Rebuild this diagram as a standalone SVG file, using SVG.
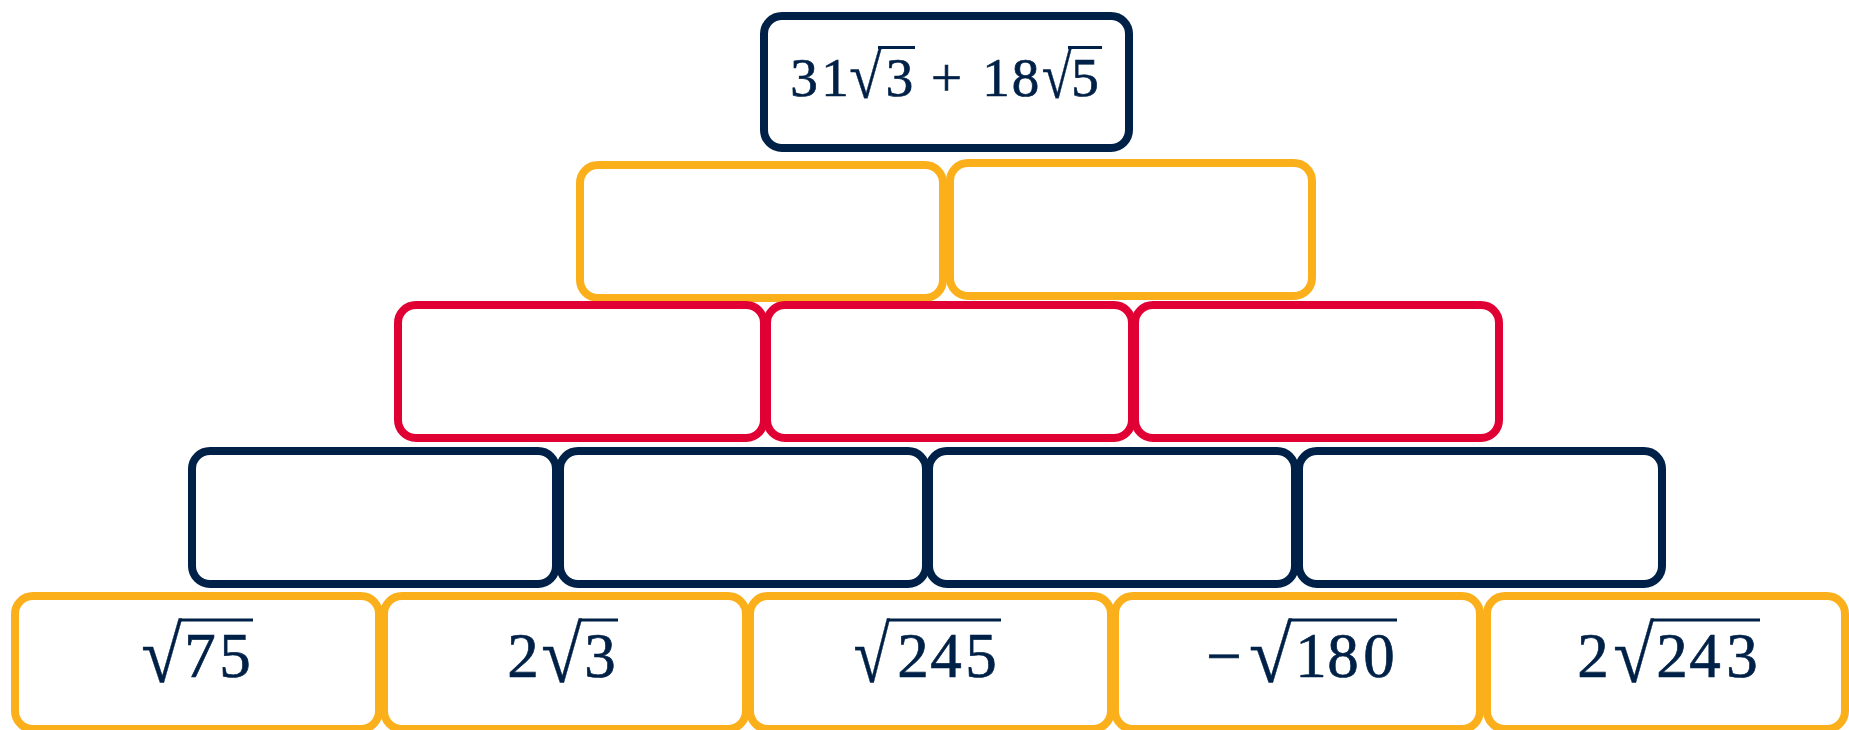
<svg xmlns="http://www.w3.org/2000/svg" width="1849" height="730" viewBox="0 0 1849 730">
<style>
.box{fill:none;stroke-width:8}
.y{stroke:#fbb01b}
.r{stroke:#e00034}
.d{stroke:#002147}
.t{font-family:"Liberation Serif","Times New Roman",serif;fill:#002147;stroke:#002147;stroke-width:0.7px;text-anchor:middle}
.b{font-size:63px}
.s{font-size:55px}
.rb{font-size:80px;text-anchor:end;stroke-width:0.4px}
.rs{font-size:65px;text-anchor:end;stroke-width:0.4px}
.v{stroke:#002147;stroke-width:3}
</style>
<rect x="0" y="0" width="1849" height="730" fill="#fff"/>
<g id="top">
  <rect class="box d" x="764" y="16" width="365" height="132" rx="18"/>
  <text class="t s" x="804 835" y="96">31</text>
  <text class="t rs" transform="translate(882,98) scale(0.92,1)" x="0" y="0">√</text>
  <line class="v" x1="878" y1="47.5" x2="915" y2="47.5"/>
  <text class="t s" x="899.5 946.5 996 1025.5" y="96">3+18</text>
  <text class="t rs" transform="translate(1072,98) scale(0.85,1)" x="0" y="0">√</text>
  <line class="v" x1="1068" y1="47.5" x2="1102" y2="47.5"/>
  <text class="t s" x="1085" y="96">5</text>
</g>
<g id="r2a"><rect class="box y" x="580" y="165" width="363" height="133" rx="18"/></g>
<g id="r2b"><rect class="box y" x="950" y="163" width="362" height="133" rx="18"/></g>
<g id="r3a"><rect class="box r" x="398" y="305" width="366" height="133" rx="18"/></g>
<g id="r3b"><rect class="box r" x="767" y="305" width="365" height="133" rx="18"/></g>
<g id="r3c"><rect class="box r" x="1135" y="305" width="364" height="133" rx="18"/></g>
<g id="r4a"><rect class="box d" x="192" y="451" width="364" height="133" rx="18"/></g>
<g id="r4b"><rect class="box d" x="560" y="451" width="366" height="133" rx="18"/></g>
<g id="r4c"><rect class="box d" x="929" y="451" width="366" height="133" rx="18"/></g>
<g id="r4d"><rect class="box d" x="1299" y="451" width="363" height="133" rx="18"/></g>
<g id="r5a">
  <rect class="box y" x="15" y="596" width="364" height="133" rx="18"/>
  <text class="t rb" transform="translate(182,682) scale(0.93,1)" x="0" y="0">√</text>
  <line class="v" x1="179" y1="620" x2="253" y2="620"/>
  <text class="t b" x="200 235" y="677">75</text>
</g>
<g id="r5b">
  <rect class="box y" x="384" y="596" width="362" height="133" rx="18"/>
  <text class="t b" x="523" y="677">2</text>
  <text class="t rb" transform="translate(582,682) scale(0.93,1)" x="0" y="0">√</text>
  <line class="v" x1="579" y1="620" x2="618" y2="620"/>
  <text class="t b" x="600" y="677">3</text>
</g>
<g id="r5c">
  <rect class="box y" x="750" y="596" width="361" height="133" rx="18"/>
  <text class="t rb" transform="translate(890,682) scale(0.83,1)" x="0" y="0">√</text>
  <line class="v" x1="887" y1="620" x2="1001" y2="620"/>
  <text class="t b" x="913 946 981" y="677">245</text>
</g>
<g id="r5d">
  <rect class="box y" x="1115" y="596" width="365" height="133" rx="18"/>
  <text class="t b" x="1224" y="677">−</text>
  <text class="t rb" transform="translate(1292,682) scale(0.98,1)" x="0" y="0">√</text>
  <line class="v" x1="1289" y1="620" x2="1397" y2="620"/>
  <text class="t b" x="1311 1343 1379" y="677">180</text>
</g>
<g id="r5e">
  <rect class="box y" x="1487" y="596" width="358" height="133" rx="18"/>
  <text class="t b" x="1593" y="677">2</text>
  <text class="t rb" transform="translate(1654,682) scale(0.93,1)" x="0" y="0">√</text>
  <line class="v" x1="1651" y1="620" x2="1760" y2="620"/>
  <text class="t b" x="1672 1705 1742" y="677">243</text>
</g>
</svg>
